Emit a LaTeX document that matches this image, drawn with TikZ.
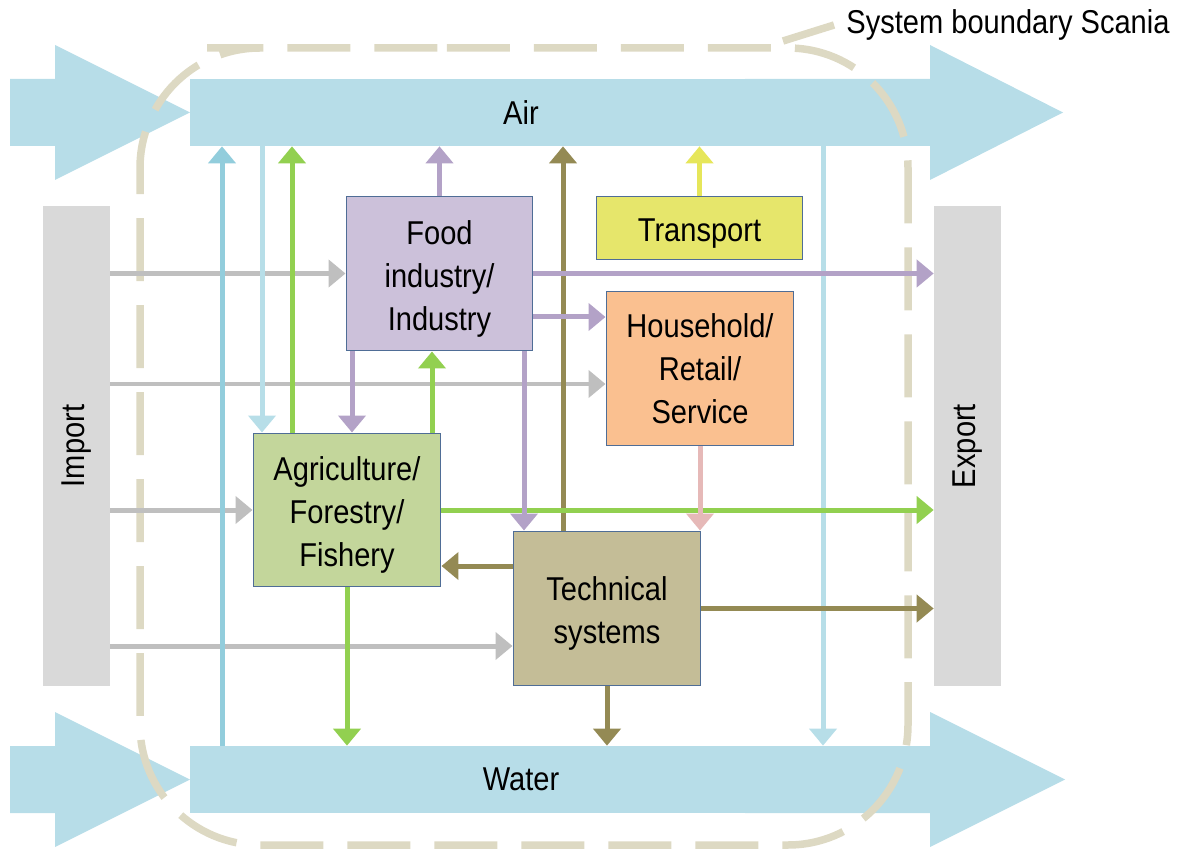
\documentclass[tikz,border=0pt]{standalone}
\usepackage{fontspec}
\setmainfont{Liberation Sans}[FakeStretch=0.88]
\usetikzlibrary{arrows.meta}
\definecolor{airblue}{HTML}{B7DDE8}
\definecolor{bnd}{HTML}{DDD9C3}
\definecolor{sidegray}{HTML}{D9D9D9}
\definecolor{boxline}{HTML}{4F6D96}
\definecolor{foodc}{HTML}{CCC1DA}
\definecolor{transc}{HTML}{E6E66B}
\definecolor{housec}{HTML}{FAC090}
\definecolor{agric}{HTML}{C3D69B}
\definecolor{techc}{HTML}{C4BD97}
\definecolor{cgray}{HTML}{BFBFBF}
\definecolor{ccyan}{HTML}{92CDDC}
\definecolor{clight}{HTML}{B7DEE8}
\definecolor{cgreen}{HTML}{92D050}
\definecolor{clav}{HTML}{B3A2C7}
\definecolor{colive}{HTML}{948A54}
\definecolor{cyell}{HTML}{E6E65A}
\definecolor{cpink}{HTML}{E6B9B8}
% taller first line, pushes box text a little down
\newcommand{\topgap}{\rule{0pt}{19.5pt}}

\begin{document}
\begin{tikzpicture}[x=0.02cm,y=-0.02cm,
  every node/.style={font=\fontsize{18.8}{24.4}\selectfont},
  bar/.style={fill=airblue,minimum width=13.24cm,minimum height=1.34cm,inner sep=0pt},
  side/.style={fill=sidegray,minimum width=1.34cm,minimum height=9.6cm,inner sep=0pt},
  box/.style={draw=boxline,line width=0.02cm,minimum width=3.76cm,minimum height=3.1cm,align=center,inner sep=0pt},
  flow/.style={line width=0.1cm,-{Triangle[width=0.54cm,length=0.34cm]}},
  border/.style={draw=bnd,line width=0.15cm,dash pattern=on 1.26cm off 0.48cm,rounded corners=2.4cm}]
\useasboundingbox (0,0) rectangle (1177,851);
% big in/out arrows of air and water
\fill[airblue] (10,79)--(55,79)--(55,45)--(190,112.5)--(55,180)--(55,146)--(10,146)--cycle;
\fill[airblue] (745,79)--(930,79)--(930,45)--(1063,112.5)--(930,180)--(930,146)--(745,146)--cycle;
\fill[airblue] (10,746)--(55,746)--(55,712)--(190,779.5)--(55,847)--(55,813)--(10,813)--cycle;
\fill[airblue] (745,746)--(930,746)--(930,712)--(1065,779.5)--(930,847)--(930,813)--(745,813)--cycle;
\node[bar] (air) at (521,112.5){Air};
\node[bar] (water) at (521,779.5){Water};
\node[side] (imp) at (76.5,446){\rotatebox{90}{Import}};
\node[side] (exp) at (967.5,446){\rotatebox{90}{Export}};
% system boundary
\draw[border] (327,48)--(908,48)--(908,845)--(140,845)--(140,48)--cycle;
\node[inner xsep=0.24cm] (lbl) at (1008,25){System boundary Scania};
\coordinate (tick) at (783,41);
\draw[bnd,line width=0.15cm] (tick)--(lbl.west);
% sectors
\node[box,fill=foodc,minimum width=3.74cm] (food) at (439.5,273.5){\topgap Food\\industry/\\Industry};
\node[box,fill=transc,minimum width=4.14cm,minimum height=1.28cm] (trans) at (699.5,228){\topgap Transport};
\node[box,fill=housec] (house) at (700,368.5){Household/\\Retail/\\Service};
\node[box,fill=agric,minimum height=3.08cm] (agri) at (347,510){\topgap Agriculture/\\Forestry/\\Fishery};
\node[box,fill=techc] (tech) at (607,608.5){\topgap Technical\\systems};
% imports
\draw[flow,cgray] (imp.east |- food.west)--(food.west);
\draw[flow,cgray] (imp.east |- 0,384)--(house.west |- 0,384);
\draw[flow,cgray] (imp.east |- agri.west)--(agri.west);
\draw[flow,cgray] (imp.east |- 0,646)--(tech.west |- 0,646);
% exchange with air and water
\draw[flow,ccyan] (water.north -| 222,0)--(air.south -| 222,0);
\draw[flow,clight] (air.south -| 262,0)--(agri.north -| 262,0);
\draw[flow,cgreen] (agri.north -| 292,0)--(air.south -| 292,0);
\draw[flow,clav] (food.north)--(air.south -| food.north);
\draw[flow,colive] (tech.north -| 563,0)--(air.south -| 563,0);
\draw[flow,cyell] (trans.north)--(air.south -| trans.north);
\draw[flow,clight] (air.south -| 823,0)--(water.north -| 823,0);
\draw[flow,cgreen] (agri.south)--(water.north -| agri.south);
\draw[flow,colive] (tech.south)--(water.north -| tech.south);
% flows between sectors and exports
\draw[flow,cgreen] (agri.east)--(exp.west |- agri.east);
\draw[flow,clav] (food.east)--(exp.west |- food.east);
\draw[flow,clav] (food.east |- 0,317)--(house.west |- 0,317);
\draw[flow,clav] (food.south -| 352,0)--(agri.north -| 352,0);
\draw[flow,cgreen] (agri.north -| 432,0)--(food.south -| 432,0);
\draw[flow,clav] (food.south -| 524,0)--(tech.north -| 524,0);
\draw[flow,cpink] (house.south)--(tech.north -| house.south);
\draw[flow,colive] (tech.west |- 0,566)--(agri.east |- 0,566);
\draw[flow,colive] (tech.east)--(exp.west |- tech.east);
\end{tikzpicture}
\end{document}
